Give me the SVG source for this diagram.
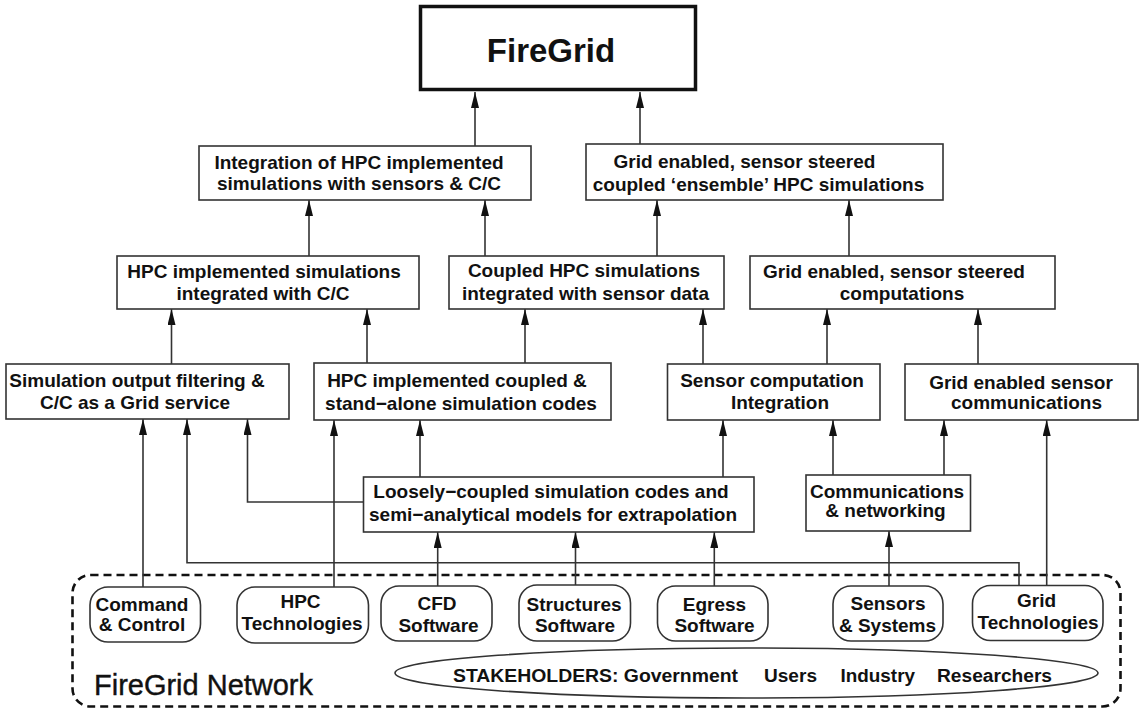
<svg xmlns="http://www.w3.org/2000/svg" width="1142" height="711" viewBox="0 0 1142 711">
<style>
.box{fill:#fff;stroke:#333;stroke-width:1.6}
.rnd{fill:#fff;stroke:#333;stroke-width:1.6}
.t{font-family:"Liberation Sans",Arial,sans-serif;font-weight:bold;font-size:19px;fill:#111;text-anchor:middle}
.s{font-family:"Liberation Sans",Arial,sans-serif;font-weight:bold;font-size:18.3px;fill:#111}
.c{fill:none;stroke:#333;stroke-width:1.6;marker-end:url(#ah)}
</style>
<defs>
<marker id="ah" markerUnits="userSpaceOnUse" markerWidth="16" markerHeight="8" refX="16" refY="4" orient="auto">
<path d="M0,0 L16,4 L0,8 z" fill="#111"/>
</marker>
</defs>
<rect width="1142" height="711" fill="#fff"/>

<g id="network">
<rect x="72.5" y="575" width="1048" height="131.5" rx="18" fill="none" stroke="#111" stroke-width="2.6" stroke-dasharray="8 5"/>
<text x="94" y="695" textLength="219" lengthAdjust="spacingAndGlyphs" style="font-family:'Liberation Sans',Arial,sans-serif;font-size:29px;fill:#111;stroke:#111;stroke-width:0.4">FireGrid Network</text>
</g>

<g id="stakeholders">
<ellipse cx="746.5" cy="673" rx="351.5" ry="25" fill="#fff" stroke="#333" stroke-width="1.6"/>
<text class="s" x="453" y="682" textLength="285" lengthAdjust="spacingAndGlyphs">STAKEHOLDERS: Government</text>
<text class="s" x="764" y="682" textLength="53" lengthAdjust="spacingAndGlyphs">Users</text>
<text class="s" x="840.5" y="682" textLength="74.5" lengthAdjust="spacingAndGlyphs">Industry</text>
<text class="s" x="937" y="682" textLength="115" lengthAdjust="spacingAndGlyphs">Researchers</text>
</g>

<g id="connectors">
<path class="c" d="M475,146 V92"/>
<path class="c" d="M640,144 V92"/>
<path class="c" d="M309,256 V200"/>
<path class="c" d="M485,256 V200"/>
<path class="c" d="M657,256 V200"/>
<path class="c" d="M849,256 V200"/>
<path class="c" d="M171.5,364 V309"/>
<path class="c" d="M367,363 V309"/>
<path class="c" d="M525,363 V309"/>
<path class="c" d="M703,364 V309"/>
<path class="c" d="M827,364 V309"/>
<path class="c" d="M978,364 V309"/>
<path class="c" d="M143,587 V419"/>
<path class="c" d="M1019,586 V562.7 H187 V419"/>
<path class="c" d="M363.5,502 H247.5 V419"/>
<path class="c" d="M334,587 V420"/>
<path class="c" d="M420,477 V420"/>
<path class="c" d="M723,477 V420"/>
<path class="c" d="M833,475 V420"/>
<path class="c" d="M944,475 V420"/>
<path class="c" d="M1046.7,586 V420"/>
<path class="c" d="M437.7,586 V532"/>
<path class="c" d="M575.5,585 V532"/>
<path class="c" d="M714.3,586 V532"/>
<path class="c" d="M889,586 V531"/>
</g>

<g id="firegrid">
<rect x="420.5" y="6.5" width="275" height="83" fill="#fff" stroke="#111" stroke-width="3.5"/>
<text class="t" style="font-size:33px" x="551" y="62">FireGrid</text>
</g>

<g id="integration">
<rect class="box" x="199" y="146" width="332" height="54"/>
<text class="t" x="359" y="169">Integration of HPC implemented</text>
<text class="t" x="359" y="190">simulations with sensors &amp; C/C</text>
</g>

<g id="grid-ensemble">
<rect class="box" x="586" y="144" width="357" height="56"/>
<text class="t" x="744.5" y="168">Grid enabled, sensor steered</text>
<text class="t" x="758.5" y="191">coupled ‘ensemble’ HPC simulations</text>
</g>

<g id="hpc-sims-cc">
<rect class="box" x="117" y="256" width="302" height="53"/>
<text class="t" x="264" y="278">HPC implemented simulations</text>
<text class="t" x="263" y="300">integrated with C/C</text>
</g>

<g id="coupled-hpc">
<rect class="box" x="449" y="256" width="275" height="53"/>
<text class="t" x="584" y="277">Coupled HPC simulations</text>
<text class="t" x="585.5" y="300">integrated with sensor data</text>
</g>

<g id="grid-computations">
<rect class="box" x="750" y="256" width="305" height="53"/>
<text class="t" x="894" y="278">Grid enabled, sensor steered</text>
<text class="t" x="902" y="300">computations</text>
</g>

<g id="sim-output">
<rect class="box" x="6" y="364" width="283" height="55"/>
<text class="t" x="137" y="387">Simulation output filtering &amp;</text>
<text class="t" x="135" y="409">C/C as a Grid service</text>
</g>

<g id="hpc-coupled">
<rect class="box" x="314" y="363" width="297" height="57"/>
<text class="t" x="457" y="387">HPC implemented coupled &amp;</text>
<text class="t" x="461" y="410">stand−alone simulation codes</text>
</g>

<g id="sensor-computation">
<rect class="box" x="667.5" y="364" width="212.5" height="56"/>
<text class="t" x="772" y="387">Sensor computation</text>
<text class="t" x="780" y="409">Integration</text>
</g>

<g id="grid-sensor-comms">
<rect class="box" x="905" y="364" width="233" height="56"/>
<text class="t" x="1021" y="389">Grid enabled sensor</text>
<text class="t" x="1026.5" y="409">communications</text>
</g>

<g id="loosely">
<rect class="box" x="363.5" y="477" width="390.5" height="55"/>
<text class="t" x="551" y="498">Loosely−coupled simulation codes and</text>
<text class="t" x="553" y="521">semi−analytical models for extrapolation</text>
</g>

<g id="comms">
<rect class="box" x="806" y="475" width="164.5" height="56"/>
<text class="t" x="887" y="498">Communications</text>
<text class="t" x="885.5" y="517">&amp; networking</text>
</g>

<g id="command-control">
<rect class="rnd" x="90" y="587" width="110.5" height="55" rx="18"/>
<text class="t" x="142" y="611">Command</text>
<text class="t" x="142" y="631">&amp; Control</text>
</g>

<g id="hpc-tech">
<rect class="rnd" x="237" y="587" width="131.5" height="56" rx="18"/>
<text class="t" x="300.5" y="608">HPC</text>
<text class="t" x="302" y="629.5">Technologies</text>
</g>

<g id="cfd">
<rect class="rnd" x="381" y="586" width="111" height="55" rx="18"/>
<text class="t" x="437" y="610">CFD</text>
<text class="t" x="438.5" y="631.5">Software</text>
</g>

<g id="structures">
<rect class="rnd" x="519" y="585" width="111.5" height="56" rx="18"/>
<text class="t" x="574" y="611">Structures</text>
<text class="t" x="575" y="631.5">Software</text>
</g>

<g id="egress">
<rect class="rnd" x="657.5" y="586" width="110.5" height="55" rx="18"/>
<text class="t" x="714.5" y="610.5">Egress</text>
<text class="t" x="714.5" y="631.5">Software</text>
</g>

<g id="sensors">
<rect class="rnd" x="833" y="586" width="110" height="55" rx="18"/>
<text class="t" x="888" y="610">Sensors</text>
<text class="t" x="887.5" y="631.5">&amp; Systems</text>
</g>

<g id="grid-tech">
<rect class="rnd" x="972.5" y="585.5" width="130.5" height="55" rx="18"/>
<text class="t" x="1036.5" y="607">Grid</text>
<text class="t" x="1038" y="629">Technologies</text>
</g>
</svg>
